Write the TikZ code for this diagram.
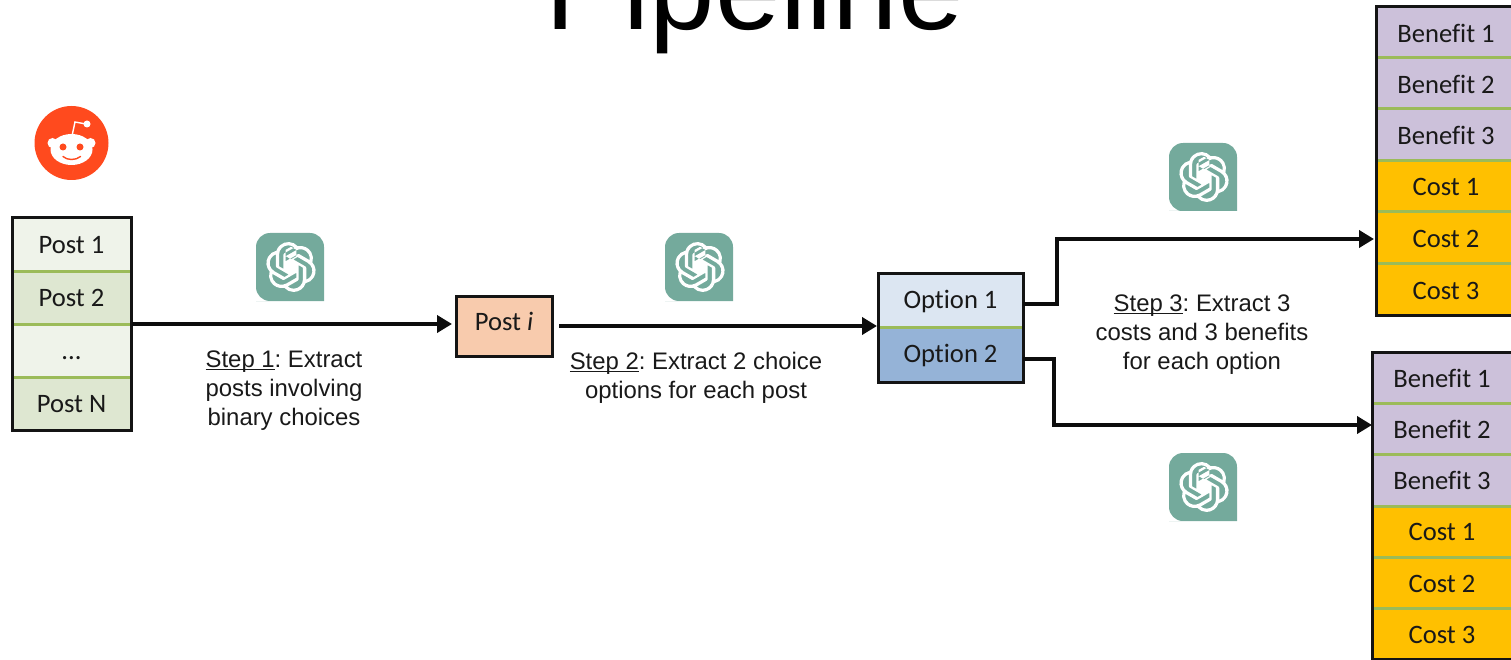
\documentclass[tikz,border=0pt]{standalone}
\usepackage{fontspec}
\setmainfont{Liberation Sans}
\newfontfamily\calib[Ligatures=NoCommon]{Carlito}
\usetikzlibrary{arrows.meta,svg.path}
\definecolor{framek}{HTML}{141414}
\definecolor{sepgreen}{HTML}{9BBB59}
\definecolor{postlight}{HTML}{EFF3EA}
\definecolor{postdark}{HTML}{DEE7D1}
\definecolor{postpeach}{HTML}{F8CBAD}
\definecolor{optlight}{HTML}{DCE6F2}
\definecolor{optdark}{HTML}{95B3D7}
\definecolor{benefit}{HTML}{CCC1DA}
\definecolor{costc}{HTML}{FFC000}
\definecolor{gptgreen}{HTML}{74AA9C}
\definecolor{redditc}{HTML}{FF4A1E}
\tikzset{
  x=1pt,y=-1pt,
  cell/.style={inner sep=0pt,outer sep=0pt},
  celltext/.style={inner sep=0pt,outer sep=0pt,text height=21pt,text depth=4pt,font=\calib\fontsize{26.6}{30}\selectfont,text=black!90},
  frame/.style={draw=framek,line width=3pt},
  sepline/.style={draw=sepgreen,line width=3pt},
  conn/.style={draw=black!95,line width=4pt,-{Triangle[length=15pt,width=17pt]}},
  steplabel/.style={inner sep=0pt,align=center,font=\frenchspacing\fontsize{23.9}{29}\selectfont,text=black!90},
  gptbox/.style={fill=gptgreen,draw=none},
}
\newcommand{\mkcell}[6]{% name, x1, y1, x2, y2, fill
  \node[cell,fill=#6,minimum width=#4 pt-#2 pt,minimum height=#5 pt-#3 pt,anchor=north west] (#1) at (#2,#3) {};
}
\newcommand{\stepul}[1]{\setbox0=\hbox{#1}\rlap{\rule[-2.8pt]{\wd0}{1.4pt}}\box0}
\newcommand{\gptlogo}[3]{% name, cx, cy
  \fill[gptbox] ({#2-34},{#3+34}) -- ({#2+34},{#3+34}) -- ({#2+34},{#3-20}) arc[start angle=0,end angle=90,x radius=14,y radius=-14]
    -- ({#2-20},{#3-34}) arc[start angle=90,end angle=180,x radius=14,y radius=-14]
    -- ({#2-34},{#3+20}) arc[start angle=180,end angle=270,x radius=14,y radius=-14] -- cycle;
  \coordinate (#1) at (#2,#3);
  \begin{scope}[shift={(#2+1,#3)},xscale=2.08,yscale=-2.08,xshift=-12pt,yshift=-12pt]
    \fill[white,even odd rule] svg "M 22.2819 9.8211 a 5.9847 5.9847 0 0 0 -0.5157 -4.9108 6.0462 6.0462 0 0 0 -6.5098 -2.9 A 6.0651 6.0651 0 0 0 4.9807 4.1818 a 5.9847 5.9847 0 0 0 -3.9977 2.9 6.0462 6.0462 0 0 0 0.7427 7.0966 5.98 5.98 0 0 0 0.511 4.9107 6.051 6.051 0 0 0 6.5146 2.9001 A 5.9847 5.9847 0 0 0 13.2599 24 a 6.0557 6.0557 0 0 0 5.7718 -4.2058 5.9894 5.9894 0 0 0 3.9977 -2.9001 6.0557 6.0557 0 0 0 -0.7475 -7.0729 z m -9.022 12.6081 a 4.4755 4.4755 0 0 1 -2.8764 -1.0408 l 0.1419 -0.0804 4.7783 -2.7582 a 0.7948 0.7948 0 0 0 0.3927 -0.6813 v -6.7369 l 2.02 1.1686 a 0.071 0.071 0 0 1 0.038 0.052 v 5.5826 a 4.504 4.504 0 0 1 -4.4945 4.4944 z m -9.6607 -4.1254 a 4.4708 4.4708 0 0 1 -0.5346 -3.0137 l 0.142 0.0852 4.783 2.7582 a 0.7712 0.7712 0 0 0 0.7806 0 l 5.8428 -3.3685 v 2.3324 a 0.0804 0.0804 0 0 1 -0.0332 0.0615 L 9.74 19.9502 a 4.4992 4.4992 0 0 1 -6.1408 -1.6464 z M 2.3408 7.8956 a 4.485 4.485 0 0 1 2.3655 -1.9728 V 11.6 a 0.7664 0.7664 0 0 0 0.3879 0.6765 l 5.8144 3.3543 -2.0201 1.1685 a 0.0757 0.0757 0 0 1 -0.071 0 l -4.8303 -2.7865 A 4.504 4.504 0 0 1 2.3408 7.872 z m 16.5963 3.8558 L 13.1038 8.364 15.1192 7.2 a 0.0757 0.0757 0 0 1 0.071 0 l 4.8303 2.7913 a 4.4944 4.4944 0 0 1 -0.6765 8.1042 v -5.6772 a 0.79 0.79 0 0 0 -0.407 -0.667 z m 2.0107 -3.0231 l -0.142 -0.0852 -4.7735 -2.7818 a 0.7759 0.7759 0 0 0 -0.7854 0 L 9.409 9.2297 V 6.8974 a 0.0662 0.0662 0 0 1 0.0284 -0.0615 l 4.8303 -2.7866 a 4.4992 4.4992 0 0 1 6.6802 4.66 z M 8.3065 12.863 l -2.02 -1.1638 a 0.0804 0.0804 0 0 1 -0.038 -0.0567 V 6.0742 a 4.4992 4.4992 0 0 1 7.3757 -3.4537 l -0.142 0.0805 L 8.704 5.459 a 0.7948 0.7948 0 0 0 -0.3927 0.6813 z m 1.0976 -2.3654 l 2.602 -1.4998 2.6069 1.4998 v 2.9994 l -2.5974 1.4997 -2.6067 -1.4997 Z";
  \end{scope}
}
\begin{document}
\begin{tikzpicture}
\useasboundingbox (0,0) rectangle (1511,660);
\clip (0,0) rectangle (1511,660);

% title
\node[anchor=base,inner sep=0pt,font=\fontsize{117.5}{130}\selectfont] (title) at (754.5,30) {Pipeline};

% reddit logo
\fill[redditc] (71.5,143) circle[radius=37];
\coordinate (reddit) at (71.5,143);
\fill[white] (52.5,143) circle[radius=5];
\fill[white] (90.5,143) circle[radius=5];
\fill[white] (71.5,149.5) ellipse[x radius=21,y radius=15.5];
\draw[white,line width=1.4pt] (72,136) -- (75,122) -- (86,124);
\fill[white] (87,124) circle[radius=3.5];
\fill[redditc] (63,147) circle[radius=3.5];
\fill[redditc] (80,147) circle[radius=3.5];
\draw[redditc,line width=1.4pt,line cap=round] (63,156.5) .. controls (67,160.5) and (76,160.5) .. (80.5,156.5);

% posts
\mkcell{p1}{12}{218}{131}{271}{postlight}
\mkcell{p2}{12}{271}{131}{324}{postdark}
\mkcell{p3}{12}{324}{131}{377}{postlight}
\mkcell{p4}{12}{377}{131}{430}{postdark}
\node[celltext] (t1) at (p1.center) {Post 1};
\node[celltext] (t2) at (p2.center) {Post 2};
\node[celltext] (t3) at (p3.center) {...};
\node[celltext] (t4) at (p4.center) {Post N};
\draw[sepline] (p1.south west) -- (p1.south east);
\draw[sepline] (p2.south west) -- (p2.south east);
\draw[sepline] (p3.south west) -- (p3.south east);
\draw[frame] (p1.north west) rectangle (p4.south east);

% post i
\node[cell,fill=postpeach,draw=framek,line width=3pt,minimum width=96pt,minimum height=60pt] (posti) at (504.5,326) {};
\node[celltext] (postit) at (504,322) {Post \textit{i}};

% options
\mkcell{o1}{878}{273}{1023}{327}{optlight}
\mkcell{o2}{878}{327}{1023}{382}{optdark}
\node[celltext] (to1) at (o1.center) {Option 1};
\node[celltext] (to2) at ([yshift=0.5pt]o2.center) {Option 2};
\draw[sepline] (o1.south west) -- (o1.south east);
\draw[frame] (o1.north west) rectangle (o2.south east);

% upper outcome stack
\mkcell{a1}{1376}{7}{1516}{58}{benefit}
\mkcell{a2}{1376}{58}{1516}{109}{benefit}
\mkcell{a3}{1376}{109}{1516}{161}{benefit}
\mkcell{a4}{1376}{161}{1516}{212}{costc}
\mkcell{a5}{1376}{212}{1516}{263}{costc}
\mkcell{a6}{1376}{263}{1516}{315}{costc}
\node[celltext,yshift=-1.5pt] at (a1.center) {Benefit 1};
\node[celltext,yshift=-1.5pt] at (a2.center) {Benefit 2};
\node[celltext,yshift=-1.5pt] at (a3.center) {Benefit 3};
\node[celltext,yshift=-1pt] at (a4.center) {Cost 1};
\node[celltext,yshift=-1.5pt] at (a5.center) {Cost 2};
\node[celltext,yshift=-1.5pt] at (a6.center) {Cost 3};
\foreach \n in {a1,a2,a3,a4,a5}{\draw[sepline] (\n.south west) -- (\n.south east);}
\draw[frame] (a1.north west) rectangle (a6.south east);

% lower outcome stack
\mkcell{b1}{1372}{352}{1512}{403}{benefit}
\mkcell{b2}{1372}{403}{1512}{454}{benefit}
\mkcell{b3}{1372}{454}{1512}{506}{benefit}
\mkcell{b4}{1372}{506}{1512}{557}{costc}
\mkcell{b5}{1372}{557}{1512}{608}{costc}
\mkcell{b6}{1372}{608}{1512}{659}{costc}
\node[celltext,yshift=-1pt] at (b1.center) {Benefit 1};
\node[celltext,yshift=-1pt] at (b2.center) {Benefit 2};
\node[celltext,yshift=-1pt] at (b3.center) {Benefit 3};
\node[celltext] at (b4.center) {Cost 1};
\node[celltext,yshift=-1pt] at (b5.center) {Cost 2};
\node[celltext,yshift=-1pt] at (b6.center) {Cost 3};
\foreach \n in {b1,b2,b3,b4,b5}{\draw[sepline] (\n.south west) -- (\n.south east);}
\draw[frame] (b1.north west) rectangle (b6.south east);

% connectors
\draw[conn] ([xshift=1pt]p2.south east) -- ([xshift=-4.5pt,yshift=2pt]posti.west);
\draw[conn] ([xshift=6.5pt]posti.east) -- ([xshift=-1pt,yshift=1pt]o1.south west);
\draw[conn,line join=miter] ([yshift=-4pt]o1.east) -- ++(34,0) |- ([xshift=-2pt,yshift=-1.5pt]a5.west);
\draw[conn,line join=miter] ([yshift=-4pt]o2.east) -- ++(31,0) |- ([yshift=3.5pt]b2.west);

% icons
\gptlogo{g1}{290}{267}
\gptlogo{g2}{699}{267}
\gptlogo{g3}{1203}{177}
\gptlogo{g4}{1203}{487}

% step labels
\node[steplabel] (s1) at (284,390.5) {\stepul{Step 1}: Extract\\posts involving\\binary choices};
\node[steplabel] (s2) at (696,377.5) {\stepul{Step 2}: Extract 2 choice\\options for each post};
\node[steplabel] (s3) at (1202,334.5) {\stepul{Step 3}: Extract 3\\costs and 3 benefits\\for each option};
\end{tikzpicture}
\end{document}
